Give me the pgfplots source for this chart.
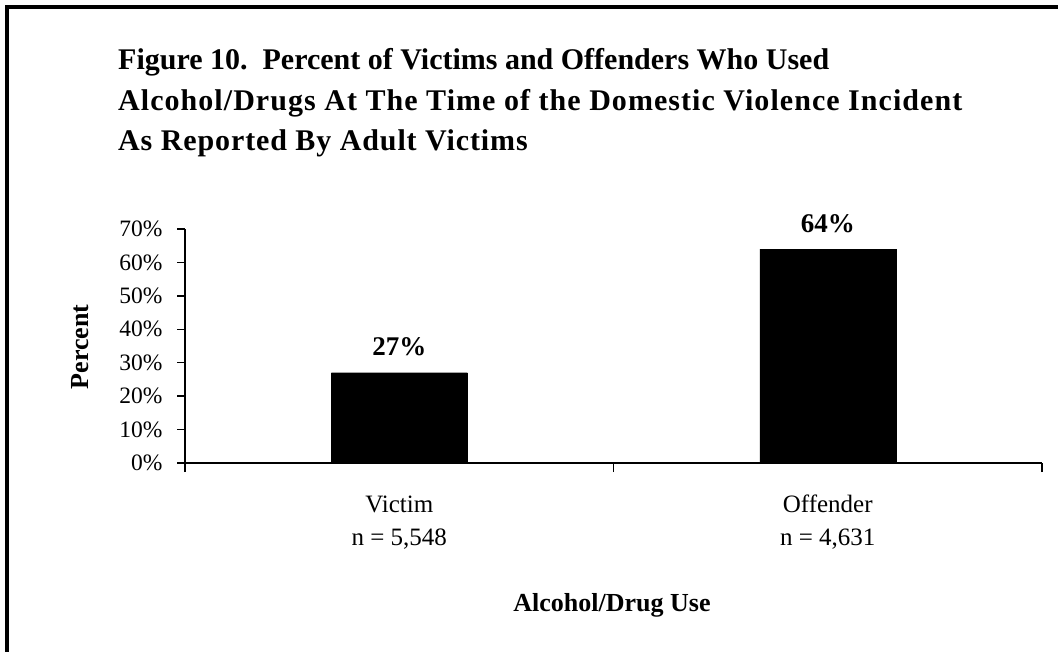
\documentclass[border=0pt]{standalone}
\usepackage{pgfplots}
\pgfplotsset{compat=1.18}
\usepackage{fontspec}
\setmainfont{Liberation Serif}
\newfontfamily\titlefontA[LetterSpace=0]{Liberation Serif}
\newfontfamily\titlefontB[LetterSpace=3.5]{Liberation Serif}
\newfontfamily\titlefontC[LetterSpace=3]{Liberation Serif}
\begin{document}
\begin{tikzpicture}
\useasboundingbox (0pt,0pt) rectangle (1058pt,-652pt);
\fill[white] (0pt,0pt) rectangle (1058pt,-652pt);
\draw[line width=4pt] (7pt,-654pt) -- (7pt,-7pt) -- (1060pt,-7pt);
\begin{axis}[
  at={(185pt,-463pt)}, anchor=south west,
  scale only axis, width=857pt, height=234pt,
  xmin=0.5, xmax=2.5, ymin=0, ymax=70,
  axis x line*=bottom, axis y line*=left,
  axis line style={line width=1.5pt},
  xtick={1,2},
  xticklabels={{\vphantom{f}Victim\\n = 5,548},{Offender\\n = 4,631}},
  xticklabel style={align=center, font=\fontsize{25}{33}\selectfont, yshift=-20pt},
  minor xtick={0.5,1.5,2.5},
  major x tick style={draw=none},
  minor tick length=9pt,
  ytick={0,10,20,30,40,50,60,70},
  yticklabels={0\%,10\%,20\%,30\%,40\%,50\%,60\%,70\%},
  yticklabel style={font=\fontsize{23.5}{28}\selectfont, xshift=-11pt},
  tick align=outside,
  major tick length=8pt,
  tick style={line width=1.5pt, black},
  ybar, bar width=136pt,
  point meta=explicit symbolic,
  nodes near coords,
  every node near coord/.append style={font=\bfseries\fontsize{27}{30}\selectfont, anchor=base, inner sep=0pt, yshift=17pt},
  clip=false,
]
\addplot[fill=black, draw=black] coordinates {(1,27) [27\%] (2,64) [64\%]};
\end{axis}
\begin{scope}[every node/.style={anchor=base west, inner sep=0pt}]
\node[font=\titlefontA\bfseries\fontsize{30}{33}\selectfont] at (118pt,-70pt) {Figure 10.\ \ Percent of Victims and Offenders Who Used};
\node[font=\titlefontB\bfseries\fontsize{30}{33}\selectfont] at (118pt,-111pt) {Alcohol/Drugs At The Time of the Domestic Violence Incident};
\node[font=\titlefontC\bfseries\fontsize{30}{33}\selectfont] at (118pt,-151pt) {As Reported By Adult Victims};
\end{scope}
\node[anchor=base, font=\bfseries\fontsize{26}{30}\selectfont] at (612pt,-611pt) {Alcohol/Drug Use};
\node[rotate=90, font=\bfseries\fontsize{26}{30}\selectfont] at (80pt,-347pt) {Percent};
\end{tikzpicture}
\end{document}
